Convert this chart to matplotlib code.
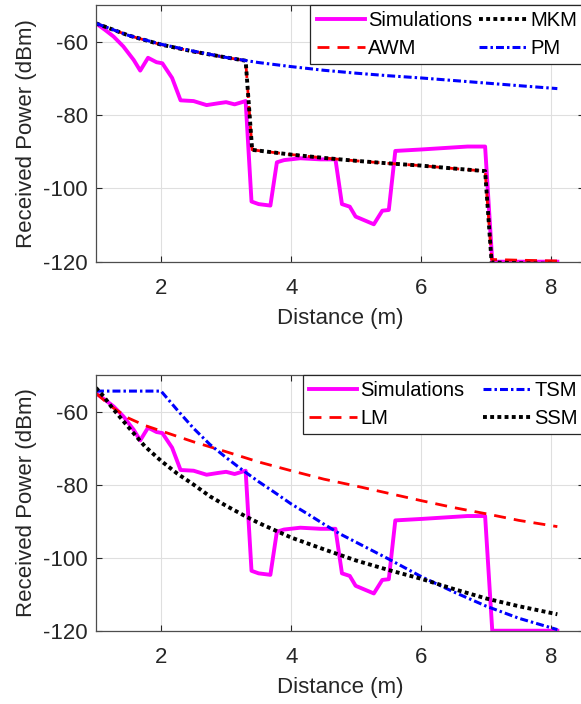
import numpy as np
import matplotlib
matplotlib.use('Agg')
import matplotlib.pyplot as plt

plt.rcParams['font.family'] = ['Liberation Sans', 'DejaVu Sans']
plt.rcParams['axes.unicode_minus'] = False

# measured simulation trace (same in both panels)
sim_x = [1.0, 1.14, 1.27, 1.42, 1.58, 1.68, 1.80, 1.93, 2.02, 2.17, 2.30, 2.50, 2.70, 2.88,
         3.00, 3.13, 3.30, 3.39, 3.50, 3.68, 3.78, 3.89, 4.14, 4.45, 4.68, 4.78, 4.90,
         4.99, 5.27, 5.40, 5.50, 5.60, 6.00, 6.71, 6.98, 7.09, 8.09]
sim_y = [-55, -56.8, -58.6, -61.3, -65, -67.9, -64.4, -65.6, -65.9, -69.9, -76, -76.2,
         -77.3, -76.8, -76.5, -77.1, -76.2, -103.6, -104.3, -104.7, -92.9, -92.3, -91.8,
         -92.1, -92.1, -104.3, -105, -107.7, -109.8, -106.1, -105.9, -89.8, -89.4, -88.6,
         -88.6, -120, -120]

# top panel models
awm_x = [1.0, 1.5, 2.0, 2.5, 3.0, 3.3, 3.4, 4.0, 4.5, 5.0, 5.5, 6.0, 6.5, 6.98, 7.08, 7.5, 8.09]
awm_y = [-55, -58.3, -60.8, -62.7, -64.3, -65.2, -89.5, -90.8, -91.7, -92.5, -93.2, -93.8,
         -94.6, -95.3, -119.4, -119.6, -119.8]
mkm_x = [1.0, 1.5, 2.0, 2.5, 3.0, 3.3, 3.4, 4.0, 4.5, 5.0, 5.5, 6.0, 6.5, 6.98, 7.08, 7.5, 8.09]
mkm_y = [-55, -58.3, -60.8, -62.7, -64.3, -65.2, -89.5, -90.8, -91.7, -92.5, -93.2, -93.8,
         -94.6, -95.3, -120.2, -120.4, -120.6]
pm_x = [1.0, 1.5, 2.0, 2.5, 3.0, 3.5, 4.0, 4.5, 5.0, 5.5, 6.0, 6.5, 7.0, 7.5, 8.09]
pm_y = [-55, -58.3, -60.7, -62.6, -64.3, -65.7, -66.8, -67.8, -68.6, -69.3, -69.9, -70.6,
        -71.3, -72.0, -72.8]

# bottom panel models
lm_x = [1.0, 1.25, 1.5, 1.75, 2.0, 2.5, 3.0, 3.5, 4.0, 4.5, 5.0, 5.5, 6.0, 6.5, 7.0, 7.5, 8.09]
lm_y = [-55, -58.8, -61.8, -63.8, -65.3, -68.3, -71.0, -73.8, -76.2, -78.5, -80.4, -82.4,
        -84.4, -86.3, -88.0, -89.8, -91.5]
tsm_x = [1.0, 2.0, 2.25, 2.5, 2.75, 3.0, 3.25, 3.5, 3.75, 4.0, 4.25, 4.5, 4.75, 5.0, 5.5,
         6.0, 6.5, 7.0, 7.5, 8.09]
tsm_y = [-54.4, -54.4, -59.6, -64.6, -69.0, -72.6, -76.0, -79.2, -82.2, -85.3, -88.0, -90.8,
         -93.5, -95.8, -100.4, -105.2, -109.4, -113.3, -116.6, -119.7]
ssm_x = [1.0, 1.12, 1.25, 1.5, 1.75, 2.0, 2.25, 2.5, 2.75, 3.0, 3.3, 3.5, 4.0, 4.5, 5.0,
         5.5, 6.0, 6.5, 7.0, 7.5, 8.09]
ssm_y = [-53.5, -55.9, -59.0, -64.3, -69.5, -73.5, -77.0, -80.0, -83.2, -85.8, -88.7, -90.5,
         -94.5, -97.7, -100.8, -103.4, -105.8, -108.6, -111.2, -113.3, -115.5]

xticks = [2, 4, 6, 8]
yticks = [-120, -100, -80, -60]

TXT = '#262626'
MAG = '#ff00ff'


def style_axes(ax):
    ax.set_xlim(1, 8.5)
    ax.set_ylim(-120, -50)
    ax.set_xticks(xticks)
    ax.set_yticks(yticks)
    ax.grid(True, color='#dfdfdf', linewidth=0.8)
    ax.set_axisbelow(True)
    ax.tick_params(direction='in', top=True, right=True, length=4, width=0.8,
                   labelsize=16, colors=TXT)
    ax.tick_params(axis='x', pad=12)
    ax.tick_params(axis='y', pad=6)
    for s in ax.spines.values():
        s.set_color('#4d4d4d')
        s.set_linewidth(0.9)
    ax.set_xlabel('Distance (m)', fontsize=16, color=TXT, labelpad=6)
    ax.set_ylabel('Received Power (dBm)', fontsize=16, color=TXT, labelpad=4)


def add_legend(ax, colsp=0.35):
    leg = ax.legend(ncol=2, loc='upper right', bbox_to_anchor=(1.0, 1.0),
                    borderaxespad=0, fontsize=14.5, handlelength=2.4, handletextpad=0.15,
                    columnspacing=colsp, labelspacing=0.42, borderpad=0.32,
                    fancybox=False, framealpha=1, edgecolor='#262626')
    leg.get_frame().set_linewidth(0.9)


fig = plt.figure(figsize=(5.81, 7.04), dpi=100)
ax1 = fig.add_axes([0.1652, 0.6283, 0.84, 0.3646])
ax2 = fig.add_axes([0.1652, 0.1041, 0.84, 0.3632])

ax1.plot(sim_x, sim_y, color=MAG, lw=2.8, label='Simulations')
ax1.plot(awm_x, awm_y, color='red', lw=2.0, ls=(0, (4.3, 2.9)), label='AWM')
ax1.plot(mkm_x, mkm_y, color='black', lw=2.8, ls=(0, (1, 0.85)), label='MKM')
ax1.plot(pm_x, pm_y, color='blue', lw=2.2, ls=(0, (2.6, 1.0, 0.8, 1.0)), label='PM')
style_axes(ax1)
add_legend(ax1)

ax2.plot(sim_x, sim_y, color=MAG, lw=2.8, label='Simulations')
ax2.plot(lm_x, lm_y, color='red', lw=2.0, ls=(0, (4.3, 2.9)), label='LM')
ax2.plot(tsm_x, tsm_y, color='blue', lw=2.2, ls=(0, (2.6, 1.0, 0.8, 1.0)), label='TSM')
ax2.plot(ssm_x, ssm_y, color='black', lw=2.8, ls=(0, (1, 0.85)), label='SSM')
style_axes(ax2)
add_legend(ax2, colsp=0.9)

fig.savefig('out.png', dpi=100)
